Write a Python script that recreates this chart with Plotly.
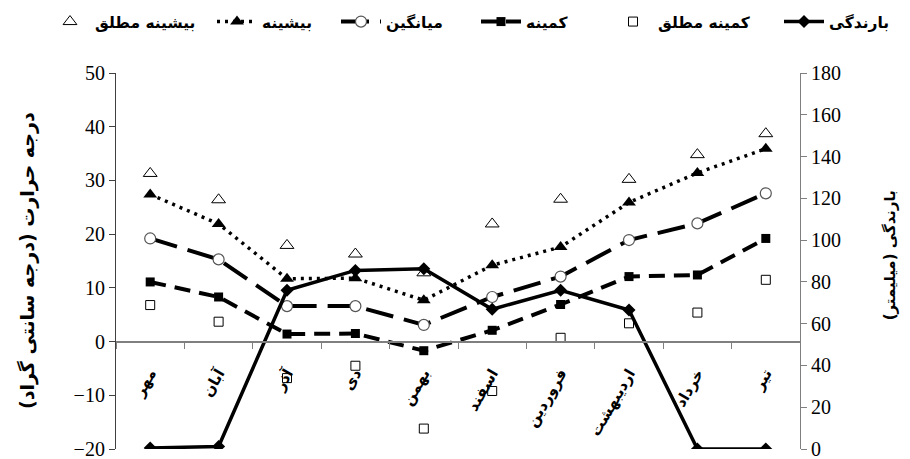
import plotly.graph_objects as go

months = ["مهر", "آبان", "آذر", "دی", "بهمن", "اسفند", "فروردین", "اردیبهشت", "خرداد", "تیر"]
abs_max = [31.3, 26.4, 17.9, 16.3, 12.8, 21.9, 26.5, 30.2, 34.8, 38.7]
mean_max = [27.4, 21.9, 11.7, 11.8, 7.7, 14.2, 17.6, 25.9, 31.4, 35.9]
mean_t = [19.2, 15.3, 6.6, 6.6, 3.1, 8.3, 12.1, 18.9, 22.0, 27.6]
mean_min = [11.1, 8.3, 1.4, 1.5, -1.7, 2.1, 6.9, 12.1, 12.4, 19.2]
abs_min = [6.8, 3.7, -6.8, -4.5, -16.2, -9.2, 0.7, 3.4, 5.4, 11.5]
precip = [0.5, 1.2, 76, 85.5, 86.3, 66.9, 76, 66.5, 0, 0]

left_ticks = [-20, -10, 0, 10, 20, 30, 40, 50]
right_ticks = [0, 20, 40, 60, 80, 100, 120, 140, 160, 180]

names = {
    "abs_max": "بیشینه مطلق",
    "max": "بیشینه",
    "mean": "میانگین",
    "min": "کمینه",
    "abs_min": "کمینه مطلق",
    "precip": "بارندگی",
}

fa_font = "DejaVu Sans"
num_font = "Liberation Serif"

W, H = 910, 459
ML, MR, MT, MB = 116, 110, 73, 10
PW = W - ML - MR
PH = H - MT - MB

fig = go.Figure()
fig.add_trace(go.Scatter(x=months, y=abs_max, name=names["abs_max"], mode="markers",
                         legend="legend",
                         marker=dict(symbol="triangle-up-open", size=12, color="black",
                                     line=dict(width=1, color="black"))))
fig.add_trace(go.Scatter(x=months, y=mean_max, name=names["max"], mode="lines+markers",
                         legend="legend2",
                         line=dict(color="black", width=3.5, dash="3px,5px"),
                         marker=dict(symbol="triangle-up", size=12, color="black")))
fig.add_trace(go.Scatter(x=months, y=mean_t, name=names["mean"], mode="lines+markers",
                         legend="legend3",
                         line=dict(color="black", width=4, dash="28px,11px"),
                         marker=dict(symbol="circle", size=11, color="white",
                                     line=dict(width=1.2, color="#555"))))
fig.add_trace(go.Scatter(x=months, y=mean_min, name=names["min"], mode="lines+markers",
                         legend="legend4",
                         line=dict(color="black", width=4, dash="16px,9px"),
                         marker=dict(symbol="square", size=9, color="black")))
fig.add_trace(go.Scatter(x=months, y=abs_min, name=names["abs_min"], mode="markers",
                         legend="legend5",
                         marker=dict(symbol="square-open", size=9, color="black",
                                     line=dict(width=1, color="black"))))
fig.add_trace(go.Scatter(x=months, y=precip, name=names["precip"], mode="lines+markers",
                         yaxis="y2", legend="legend6",
                         line=dict(color="black", width=3.5),
                         marker=dict(symbol="diamond", size=10, color="black")))

legend_left_px = [45, 212, 336, 476, 608, 779]
legend_y = (H - MB - 22) / PH


def leg(px):
    return dict(orientation="h", x=(px - ML) / PW, xanchor="left", y=legend_y,
                yanchor="middle", font=dict(family=fa_font, size=15.5, color="black", weight="bold"),
                bgcolor="rgba(0,0,0,0)", itemwidth=40)


fig.update_layout(
    width=W, height=H,
    margin=dict(l=ML, r=MR, t=MT, b=MB, autoexpand=False),
    paper_bgcolor="white", plot_bgcolor="white",
    font=dict(family=num_font, size=20, color="black"),
    showlegend=True,
    legend=leg(legend_left_px[0]),
    legend2=leg(legend_left_px[1]),
    legend3=leg(legend_left_px[2]),
    legend4=leg(legend_left_px[3]),
    legend5=leg(legend_left_px[4]),
    legend6=leg(legend_left_px[5]),
    xaxis=dict(type="category", categoryorder="array", categoryarray=months,
               range=[-0.5, 9.5], anchor="free", position=2 / 7,
               showline=True, linecolor="#7f7f7f", linewidth=2,
               ticks="outside", tickson="boundaries", ticklen=6, tickcolor="#7f7f7f",
               tickangle=-60, ticklabelstandoff=16,
               tickfont=dict(family=fa_font, size=15, color="black", weight="bold"),
               showgrid=False, zeroline=False, automargin=False),
    yaxis=dict(range=[-20, 50], tickvals=left_ticks, ticks="outside", ticklen=6,
               tickcolor="#404040", showline=True, linecolor="#404040", linewidth=1.2,
               showgrid=False, zeroline=False, automargin=False,
               ticklabeloverflow="allow",
               tickfont=dict(family=num_font, size=20, color="black")),
    yaxis2=dict(range=[0, 180], tickvals=right_ticks, overlaying="y", side="right",
                ticks="outside", ticklen=6, tickcolor="#7f7f7f", showline=True,
                linecolor="#7f7f7f", linewidth=1.2, showgrid=False, zeroline=False,
                automargin=False, ticklabeloverflow="allow",
                tickfont=dict(family=num_font, size=20, color="black")),
    annotations=[
        dict(text="درجه حرارت (درجه سانتی گراد)", xref="paper", yref="paper",
             x=(27 - ML) / PW, y=0.5, xanchor="center", yanchor="middle", textangle=-90,
             showarrow=False, font=dict(family=fa_font, size=19, color="black", weight="bold")),
        dict(text="بارندگی (میلیمتر)", xref="paper", yref="paper",
             x=(890 - ML) / PW, y=0.515, xanchor="center", yanchor="middle", textangle=-90,
             showarrow=False, font=dict(family=fa_font, size=15, color="black", weight="bold")),
    ],
)

fig.write_html("out.html", post_script="document.body.style.margin='0';",
               config={"displayModeBar": False})
